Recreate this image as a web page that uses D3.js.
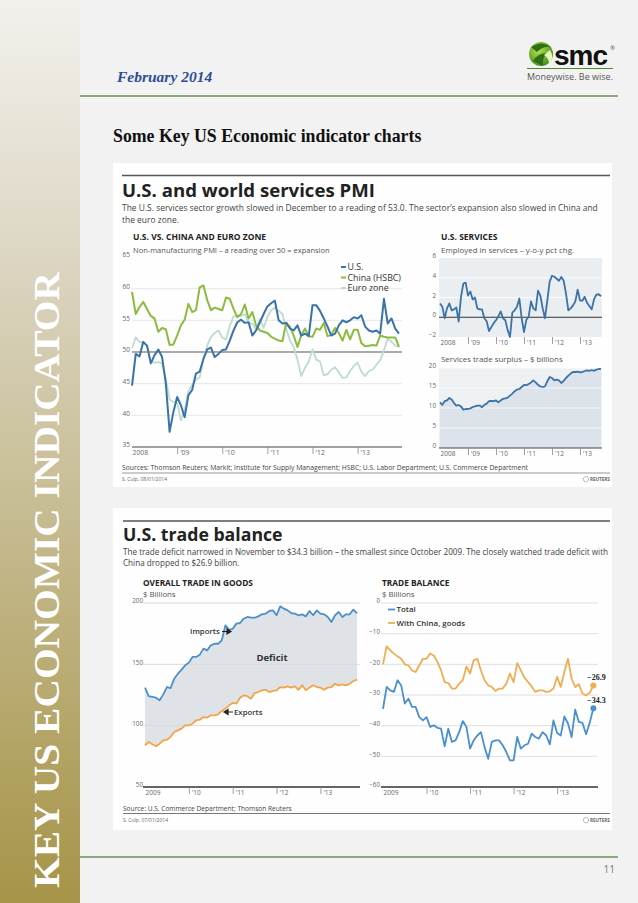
<!DOCTYPE html>
<html><head><meta charset="utf-8">
<script src="https://cdn.jsdelivr.net/npm/d3@7"></script>
<style>
html,body{margin:0;padding:0;background:#f3f2f2;}
svg{display:block;}
</style></head><body>
<svg id="page" width="638" height="903"></svg>
<script>
// ---------------- DATA ----------------
const pmiYearLabels = ["2008","'09","'10","'11","'12","'13"];
const pmiTicks = [65,60,55,50,45,40,35];
const pmiUS = [44.7,49.7,49.3,51.6,51.0,48.2,49.5,50.4,49.2,45.0,37.4,40.5,
  42.9,41.6,39.7,43.2,44.0,46.6,46.9,48.9,50.4,50.7,49.2,49.7,
  50.3,50.4,51.8,53.4,54.7,55.1,54.6,54.7,52.6,53.4,54.7,56.0,
  57.2,57.7,58.1,55.0,54.5,54.6,53.7,53.4,54.2,52.6,52.9,52.5,
  57.4,57.4,56.5,55.3,54.0,52.6,52.9,54.2,55.0,54.7,55.0,55.5,
  55.3,55.8,54.0,53.4,53.2,53.4,52.9,58.4,54.5,55.3,53.7,52.9];
const pmiChina = [59.5,56.0,57.1,57.9,56.8,55.7,55.3,53.2,53.8,53.6,51.1,51.2,
  52.6,54.2,55.1,57.6,56.3,56.6,60.2,60.5,58.2,56.6,57.0,56.8,
  56.6,58.6,58.4,56.8,55.5,56.0,57.5,55.3,56.3,54.2,53.4,53.2,
  53.0,52.4,52.1,51.8,51.7,54.6,54.0,52.6,50.8,52.6,53.7,52.5,
  52.4,53.7,53.5,54.6,52.5,52.7,53.8,53.0,51.8,53.5,52.0,53.5,
  53.5,51.4,50.9,51.0,51.1,51.0,52.6,52.4,52.3,52.3,52.3,50.8];
const pmiEuro = [50.6,52.3,51.6,51.5,50.8,48.5,48.3,48.4,48.2,45.8,42.5,42.1,
  42.0,39.2,40.9,43.8,44.8,45.6,46.0,49.0,51.0,52.4,53.0,53.4,
  52.3,52.0,54.1,55.6,55.8,55.7,56.0,54.6,54.5,53.6,55.2,53.8,
  55.5,56.6,57.0,56.5,56.0,53.7,51.8,50.8,48.8,46.2,47.5,48.5,
  50.4,48.8,48.5,46.3,46.5,47.2,47.6,46.8,45.9,46.0,47.0,47.8,
  48.3,46.9,46.2,47.0,47.2,48.0,48.7,50.3,52.1,51.6,51.0,50.8];
const pmiSeriesNames = ["U.S.","China (HSBC)","Euro zone"];

const empTicks = [6,4,2,0,-2];
const servEmp = [1.4,1.07,-0.1,0.9,1.4,0.7,0.8,1.0,-0.43,2.07,
  3.4,3.5,2.2,2.6,1.8,2.0,0.9,0.8,0.8,-0.1,
  -0.4,-1.4,-1.0,-0.6,-0.3,0.07,0.6,-0.1,-0.3,-1.3,
  -2.0,0.47,0.7,1.07,1.9,-0.1,-1.5,-0.27,0.07,1.6,
  0.9,0.7,2.7,2.2,0.9,-0.1,1.7,3.6,4.2,4.1,
  3.9,3.7,4.07,3.7,2.4,0.7,0.9,1.2,1.6,2.8,
  1.7,1.67,2.07,1.47,1.13,0.8,1.8,2.3,2.33,2.13];
const surplusTicks = [20,15,10,5,0];
const servSurplus = [11.4,10.8,11.7,11.9,12.5,12.1,11.25,10.6,10.75,10.4,
  9.6,9.75,9.75,9.9,10.25,10.4,10.6,10.6,10.2,10.8,
  11.1,11.7,11.8,11.7,11.9,11.4,11.9,12.3,12.4,12.6,
  13.1,13.6,14.2,14.6,14.75,15.25,15.8,15.7,16.0,16.4,
  16.9,16.4,15.8,15.4,15.25,15.4,16.7,17.75,17.5,16.9,
  17.1,16.9,16.25,16.8,17.5,18.1,18.6,19.0,19.0,19.1,
  18.9,19.0,19.25,19.4,19.3,19.5,19.3,19.6,19.75,19.8];

const tradeYearLabels = ["2009","'10","'11","'12","'13"];
const goodsTicks = [200,150,100,50];
const imports = [131,124,123.4,122.8,120.7,125.5,131.5,130.7,138.3,142.4,
  145.7,149.2,151.4,156,156,157.9,162.8,161.4,165.5,166.8,
  166.8,169.6,181.8,178.3,179,183.2,183.7,187.2,188.6,188,
  188,189.1,190.8,191.3,193.5,194,190,197.3,195.4,194,
  191.8,191.3,190,190.8,189.1,193.5,190,194,191.3,190.8,
  188.6,184.5,190,192.7,188.6,190.8,190.8,194.6,191.5];
const exports = [84,86.7,84.8,83.2,85.3,88,88.6,90.8,94.8,96.2,
  97.6,100.3,100.3,101.6,104.3,104.9,107,106.5,108.4,108.4,
  109.2,112,113.9,116.6,118.5,118,122.8,124.7,124,122,
  126.6,127.4,128.8,129.3,127.4,128.3,128.8,131.5,131,132.1,
  131,132.1,129.3,132.9,128.8,131,132.9,131.5,131,129.3,
  131,131.5,134.2,132.9,133.7,132.9,134.2,136.4,137.5];
const balTicks = [0,-10,-20,-30,-40,-50,-60];
const balTotal = [-34.5,-27.4,-28.5,-29,-25.2,-26.8,-32.8,-31.2,-33.9,-33.9,
  -37.2,-38.3,-37.2,-40.4,-39.9,-40.7,-41,-46.7,-41,-45.3,
  -44.8,-42.1,-38.5,-40.4,-47.5,-44.8,-43.2,-42.1,-47,-50.8,
  -45.3,-44.8,-44.8,-46.4,-48.6,-51.3,-51.3,-43.7,-47.5,-46.4,
  -45.9,-42.6,-43.7,-44.2,-42.1,-43.2,-46.1,-38.3,-42.4,-43.2,
  -37,-39.3,-43.7,-34.8,-38.8,-39.1,-42.8,-39.0,-34.3];
const balChina = [-20,-14.1,-15.4,-16.5,-17.4,-18.2,-20,-20.3,-22,-22.5,
  -20.3,-18.2,-18.2,-16.5,-17.1,-19.2,-22,-25.8,-26.1,-27.9,
  -27.9,-26.3,-25.2,-20.7,-23,-18.7,-18.2,-22,-25.2,-26.8,
  -27.4,-28.7,-27.9,-27.9,-26.3,-23,-25.8,-19.6,-22,-24.3,
  -25.8,-27.2,-29,-28.5,-28.5,-29,-28.8,-27.9,-24.1,-27.4,
  -22.5,-18.2,-24.7,-27.4,-26.5,-29.6,-30.1,-29.3,-26.9];
const balSeriesNames = ["Total","With China, goods"];

// ---------------- DRAW ----------------
const SANS = "'Open Sans', 'Noto Sans', sans-serif";
const SERIF = "'Liberation Serif', 'DejaVu Serif', serif";
const svg = d3.select("#page");
const defs = svg.append("defs");
const sb = defs.append("linearGradient").attr("id","sb").attr("x1",0).attr("y1",0).attr("x2",0).attr("y2",1);
sb.append("stop").attr("offset","0").attr("stop-color","#f3f1ed");
sb.append("stop").attr("offset","0.28").attr("stop-color","#dcd6c3");
sb.append("stop").attr("offset","1").attr("stop-color","#a69448");
const lg = defs.append("radialGradient").attr("id","lg").attr("cx","0.4").attr("cy","0.35").attr("r","0.7");
lg.append("stop").attr("offset","0").attr("stop-color","#b6e04a");
lg.append("stop").attr("offset","1").attr("stop-color","#3f8a1f");

svg.append("rect").attr("width",638).attr("height",903).attr("fill","#f3f2f2");
svg.append("rect").attr("x",0).attr("y",0).attr("width",80).attr("height",903).attr("fill","url(#sb)");

// sidebar vertical title
svg.append("text").attr("transform","translate(59,888) rotate(-90)")
  .attr("font-family",SERIF).attr("font-weight","bold").attr("font-size",36)
  .attr("fill","#ffffff").attr("textLength",616).attr("lengthAdjust","spacingAndGlyphs")
  .text("KEY US ECONOMIC INDICATOR");

// header
svg.append("text").attr("x",117).attr("y",82).attr("font-family",SERIF).attr("font-style","italic")
  .attr("font-weight","bold").attr("font-size",15.5).attr("fill","#2d4e95").text("February 2014");
svg.append("line").attr("x1",80).attr("x2",618).attr("y1",96).attr("y2",96).attr("stroke","#6b8f55").attr("stroke-width",1.3);
// logo
const logo = svg.append("g");
logo.append("circle").attr("cx",541).attr("cy",54).attr("r",12).attr("fill","url(#lg)");
logo.append("path").attr("d","M531,47 Q541,40 551,47 Q543,46 537,52 Z").attr("fill","#2f6e17");
logo.append("path").attr("d","M533,61 Q538,53 547,53 Q542,58 543,66 Z").attr("fill","#2f6e17");
logo.append("path").attr("d","M550,50 Q555,58 549,64 Q549,58 544,55 Z").attr("fill","#e6f5c0");
logo.append("text").attr("x",554).attr("y",65).attr("font-family","'Liberation Sans', Arial, sans-serif")
  .attr("font-weight","bold").attr("font-size",28).attr("letter-spacing",-1).attr("fill","#111").text("smc");
logo.append("text").attr("x",610).attr("y",50).attr("font-family",SANS).attr("font-size",6).attr("fill","#555").text("®");
logo.append("line").attr("x1",527).attr("x2",613).attr("y1",68.5).attr("y2",68.5).attr("stroke","#4f8a2a").attr("stroke-width",1.2);
logo.append("text").attr("x",570).attr("y",80).attr("text-anchor","middle").attr("font-family",SANS)
  .attr("font-size",9).attr("fill","#555").text("Moneywise. Be wise.");

svg.append("text").attr("x",113).attr("y",142).attr("font-family",SERIF).attr("font-weight","bold")
  .attr("font-size",17.8).attr("fill","#111").text("Some Key US Economic indicator charts");

// footer
svg.append("line").attr("x1",80).attr("x2",618).attr("y1",857).attr("y2",857).attr("stroke","#6b8f55").attr("stroke-width",1.3);
svg.append("text").attr("x",615).attr("y",873).attr("text-anchor","end").attr("font-family",SANS)
  .attr("font-size",10).attr("fill","#777").text("11");

// ---------- helpers ----------
function txt(g, x, y, s, size, opts={}) {
  return g.append("text").attr("x",x).attr("y",y).attr("font-family",opts.family||SANS)
    .attr("font-size",size).attr("font-weight",opts.weight||"normal").attr("fill",opts.fill||"#333")
    .attr("text-anchor",opts.anchor||"start").text(s);
}
function yAxis(g, y, ticks, xPos, size) {
  const a = g.append("g").attr("transform",`translate(${xPos},0)`)
    .call(d3.axisLeft(y).tickValues(ticks).tickSize(0).tickPadding(0).tickFormat(d3.format("d")));
  a.attr("font-size",null).attr("font-family",null);
  a.select(".domain").remove();
  a.selectAll("text").attr("dy","-0.05em").attr("font-family",SANS).attr("font-size",size||6.5).attr("fill","#666");
  return a;
}
function xAxis(g, x, vals, labels, yPos, size) {
  const a = g.append("g").attr("transform",`translate(0,${yPos})`)
    .call(d3.axisBottom(x).tickValues(vals).tickSize(7).tickPadding(0).tickFormat((d,i)=>labels[i]));
  a.attr("font-size",null).attr("font-family",null);
  a.select(".domain").remove();
  a.selectAll(".tick line").attr("stroke","#888").attr("stroke-width",0.8);
  a.selectAll(".tick").filter((d,i)=>i===0).select("line").remove();
  a.selectAll("text").attr("text-anchor","start").attr("x",(d,i)=>i===0?0:2.5).attr("y",7.5).attr("dy",0)
    .attr("font-family",SANS).attr("font-size",size||6.5).attr("fill","#666");
  return a;
}
function grid(g, y, vals, x1, x2, color, w) {
  g.append("g").selectAll("line").data(vals).join("line")
    .attr("x1",x1).attr("x2",x2).attr("y1",d=>y(d)).attr("y2",d=>y(d))
    .attr("stroke",color).attr("stroke-width",w||0.8);
}
function reutersLogo(g, x, y) {
  g.append("circle").attr("cx",x).attr("cy",y-1.8).attr("r",2.6).attr("fill","none").attr("stroke","#777").attr("stroke-width",0.9).attr("stroke-dasharray","1,0.6");
  txt(g, x+4, y, "REUTERS", 4.6, {weight:"bold", fill:"#666"});
}

// ================= CHART 1 =================
const c1 = svg.append("g");
c1.append("rect").attr("x",113).attr("y",163).attr("width",499).attr("height",324).attr("fill","#fefefe");
c1.append("line").attr("x1",122).attr("x2",610).attr("y1",175.5).attr("y2",175.5).attr("stroke","#555").attr("stroke-width",1.5);
txt(c1,122,197,"U.S. and world services PMI",18.6,{weight:"bold",fill:"#222"});
txt(c1,122,211,"The U.S. services sector growth slowed in December to a reading of 53.0. The sector\u2019s expansion also slowed in China and",8.45,{fill:"#444"});
txt(c1,122,222.5,"the euro zone.",8.45,{fill:"#444"});
txt(c1,133,240,"U.S. VS. CHINA AND EURO ZONE",8.5,{weight:"bold",fill:"#222"});
txt(c1,441,240,"U.S. SERVICES",8.5,{weight:"bold",fill:"#222"});
txt(c1,133,253,"Non-manufacturing PMI \u2013 a reading over 50 = expansion",7.5,{fill:"#555"});
txt(c1,441,253,"Employed in services \u2013 y-o-y pct chg.",7.9,{fill:"#555"});

// PMI chart
const xP = d3.scaleLinear().domain([0,71]).range([132,399]);
const yP = d3.scaleLinear().domain([35,65]).range([447,257]);
grid(c1, yP, [60,55,45,40], 132, 402, "#e4e4e4", 0.9);
grid(c1, yP, [50], 132, 402, "#8e8e8e", 1.4);
c1.append("line").attr("x1",132).attr("x2",402).attr("y1",yP(35)).attr("y2",yP(35)).attr("stroke","#444").attr("stroke-width",1);
yAxis(c1, yP, pmiTicks, 130, 6.5);
xAxis(c1, xP, [0,12,24,36,48,60], pmiYearLabels, 447, 6.8);
const pmiColors = ["#3a73a8","#8cbb3f","#bddbd0"];
const lineP = d3.line().x((d,i)=>xP(i)).y(d=>yP(d));
[[pmiEuro,2],[pmiChina,1],[pmiUS,0]].forEach(([s,k])=>{
  c1.append("path").attr("d",lineP(s)).attr("fill","none").attr("stroke",pmiColors[k])
    .attr("stroke-width",k===2?1.8:2).attr("stroke-linejoin","round");
});
pmiSeriesNames.forEach((n,i)=>{
  const yy = 267 + i*10.5;
  c1.append("line").attr("x1",341).attr("x2",346).attr("y1",yy).attr("y2",yy).attr("stroke",pmiColors[i]).attr("stroke-width",2);
  txt(c1,347.5,yy+3,n,8.8,{fill:"#333"});
});

// Employment chart
const xE = d3.scaleLinear().domain([0,69]).range([440,601]);
const yE = d3.scaleLinear().domain([-2,6]).range([337,258]);
c1.append("rect").attr("x",439).attr("y",yE(6)).attr("width",163).attr("height",yE(-2)-yE(6)).attr("fill","#ebeef1");
grid(c1, yE, [4,2], 439, 602, "#ffffff", 0.8);
c1.append("line").attr("x1",439).attr("x2",602).attr("y1",yE(0)).attr("y2",yE(0)).attr("stroke","#333").attr("stroke-width",1);
yAxis(c1, yE, empTicks, 436, 6.3);
xAxis(c1, xE, [0,12,24,36,48,60], pmiYearLabels, 337, 6.5);
c1.append("path").attr("d",d3.line().x((d,i)=>xE(i)).y(d=>yE(d))(servEmp)).attr("fill","none")
  .attr("stroke","#3a73a8").attr("stroke-width",1.8).attr("stroke-linejoin","round");

txt(c1,441,362,"Services trade surplus \u2013 $ billions",7.9,{fill:"#555"});
const yS = d3.scaleLinear().domain([0,20]).range([448,368]);
c1.append("rect").attr("x",439).attr("y",yS(20)).attr("width",163).attr("height",yS(0)-yS(20)).attr("fill","#eef0f2");
c1.append("path").attr("d",d3.area().x((d,i)=>xE(i)).y0(yS(0)).y1(d=>yS(d))(servSurplus)).attr("fill","#dce3ea");
grid(c1, yS, [20,15,10,5], 439, 602, "#ffffff", 0.7);
c1.append("path").attr("d",d3.line().x((d,i)=>xE(i)).y(d=>yS(d))(servSurplus)).attr("fill","none")
  .attr("stroke","#3a73a8").attr("stroke-width",1.8).attr("stroke-linejoin","round");
c1.append("line").attr("x1",439).attr("x2",602).attr("y1",yS(0)).attr("y2",yS(0)).attr("stroke","#444").attr("stroke-width",1);
yAxis(c1, yS, surplusTicks, 436, 6.3);
xAxis(c1, xE, [0,12,24,36,48,60], pmiYearLabels, 448, 6.5);

txt(c1,122,469.5,"Sources: Thomson Reuters; Markit; Institute for Supply Management; HSBC; U.S. Labor Department; U.S. Commerce Department",6.8,{fill:"#444"});
c1.append("line").attr("x1",122).attr("x2",610).attr("y1",473).attr("y2",473).attr("stroke","#999").attr("stroke-width",1);
txt(c1,122,481,"S. Culp, 08/01/2014",5,{fill:"#666"});
reutersLogo(c1, 586, 481);

// ================= CHART 2 =================
const c2 = svg.append("g");
c2.append("rect").attr("x",113).attr("y",508).attr("width",499).attr("height",322).attr("fill","#fefefe");
c2.append("line").attr("x1",123).attr("x2",610).attr("y1",521).attr("y2",521).attr("stroke","#555").attr("stroke-width",1.5);
txt(c2,123,540.5,"U.S. trade balance",17.7,{weight:"bold",fill:"#222"});
txt(c2,123,554.5,"The trade deficit narrowed in November to $34.3 billion \u2013 the smallest since October 2009. The closely watched trade deficit with",8.15,{fill:"#444"});
txt(c2,123,565.5,"China dropped to $26.9 billion.",8.15,{fill:"#444"});
txt(c2,143,586,"OVERALL TRADE IN GOODS",8.3,{weight:"bold",fill:"#222"});
txt(c2,143,597,"$ Billions",7.8,{fill:"#555"});
txt(c2,382,586,"TRADE BALANCE",8.3,{weight:"bold",fill:"#222"});
txt(c2,382,597,"$ Billions",7.8,{fill:"#555"});

// goods
const xG = d3.scaleLinear().domain([0,58]).range([145,357]);
const yG = d3.scaleLinear().domain([50,200]).range([787,603]);
const gArea = d3.area().x((d,i)=>xG(i)).y0((d,i)=>yG(exports[i])).y1(d=>yG(d));
c2.append("path").attr("d",gArea(imports)).attr("fill","#dfe3e8");
grid(c2, yG, [200,150,100], 143, 360, "#d8d8d8", 0.9);
c2.append("line").attr("x1",143).attr("x2",360).attr("y1",yG(50)).attr("y2",yG(50)).attr("stroke","#333").attr("stroke-width",1.4);
yAxis(c2, yG, goodsTicks, 143, 6.3);
xAxis(c2, xG, [0,12,24,36,48], tradeYearLabels, 787, 6.5);
c2.append("path").attr("d",d3.line().x((d,i)=>xG(i)).y(d=>yG(d))(imports)).attr("fill","none")
  .attr("stroke","#4d8fc8").attr("stroke-width",1.8).attr("stroke-linejoin","round");
c2.append("path").attr("d",d3.line().x((d,i)=>xG(i)).y(d=>yG(d))(exports)).attr("fill","none")
  .attr("stroke","#f2a548").attr("stroke-width",1.8).attr("stroke-linejoin","round");
txt(c2,190,634,"Imports",7.8,{weight:"600",fill:"#333"});
c2.append("path").attr("d","M222,631.5 L228,631.5 M227,629 L231,631.5 L227,634 Z").attr("stroke","#222").attr("stroke-width",1.2).attr("fill","#222");
txt(c2,272,661,"Deficit",9.5,{weight:"bold",fill:"#333",anchor:"middle"});
c2.append("path").attr("d","M227,712 L233,712 M228,709.5 L224,712 L228,714.5 Z").attr("stroke","#222").attr("stroke-width",1.2).attr("fill","#222");
txt(c2,234,715,"Exports",7.8,{weight:"600",fill:"#333"});

// balance
const xB = d3.scaleLinear().domain([0,59]).range([383,597]);
const yB = d3.scaleLinear().domain([-60,0]).range([787,603]);
grid(c2, yB, [0,-10,-20,-30,-40,-50], 381, 598, "#dcdcdc", 0.9);
c2.append("line").attr("x1",381).attr("x2",598).attr("y1",yB(-60)).attr("y2",yB(-60)).attr("stroke","#333").attr("stroke-width",1.4);
yAxis(c2, yB, balTicks, 380, 6.3);
xAxis(c2, xB, [0,12,24,36,48], tradeYearLabels, 787, 6.5);
const balColors = ["#4a90cf","#f0ae52"];
const lineB = d3.line().x((d,i)=>xB(i)).y(d=>yB(d));
[[balChina,1],[balTotal,0]].forEach(([s,k])=>{
  c2.append("path").attr("d",lineB(s)).attr("fill","none").attr("stroke",balColors[k])
    .attr("stroke-width",1.8).attr("stroke-linejoin","round");
  const li = s.length-1;
  c2.append("circle").attr("cx",xB(li)).attr("cy",yB(s[li])).attr("r",3).attr("fill",balColors[k]);
  txt(c2,xB(li)+3,yB(s[li])-5,d3.format(".1f")(s[li]),8,{weight:"bold",fill:"#222",anchor:"middle",family:SERIF});
});
balSeriesNames.forEach((n,i)=>{
  const yy = 609.5 + i*13.5;
  c2.append("line").attr("x1",388).attr("x2",395).attr("y1",yy).attr("y2",yy).attr("stroke",balColors[i]).attr("stroke-width",1.8);
  txt(c2,396.5,yy+2.8,n,7.9,{weight:"600",fill:"#333"});
});

txt(c2,123,810.5,"Source: U.S. Commerce Department; Thomson Reuters",6.6,{fill:"#444"});
c2.append("line").attr("x1",123).attr("x2",610).attr("y1",813.5).attr("y2",813.5).attr("stroke","#777").attr("stroke-width",1);
txt(c2,123,821.5,"S. Culp, 07/01/2014",5,{fill:"#666"});
reutersLogo(c2, 586, 822);
</script>
</body></html>
